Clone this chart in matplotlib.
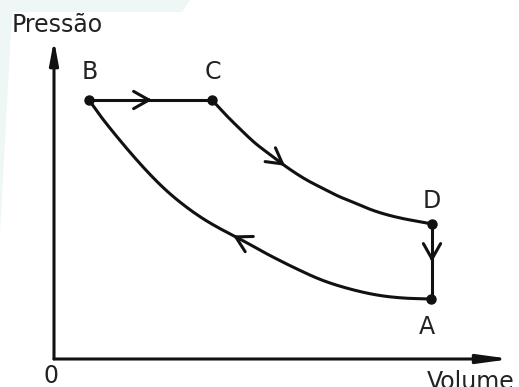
import numpy as np
import matplotlib
matplotlib.use("Agg")
import matplotlib.pyplot as plt
from matplotlib.patches import Polygon

# ---- data (arbitrary units: volume, pressure) ----
point_labels = ["A", "B", "C", "D"]
V_pts = {"A": 377, "B": 35, "C": 158, "D": 378}
P_pts = {"A": 60, "B": 259, "C": 259, "D": 135}

# curve B -> A (compression)
V_BA = [35, 48, 64, 81, 98, 114, 131, 148, 164, 181, 196, 216, 243, 269, 296, 323, 349, 377]
P_BA = [259, 241, 221, 201, 182.5, 167, 153, 141, 131.5, 122.5, 114.5, 103.5, 90, 78.5, 70, 64, 61, 60]

# curve C -> D (expansion)
V_CD = [158, 171, 184, 201, 218, 234, 251, 268, 284, 301, 318, 334, 351, 368, 378]
P_CD = [259, 245, 232, 216, 203, 191, 180, 171, 163, 156, 149, 144, 140, 137, 135]

axis_labels = {"x": "Volume", "y": "Pressão", "origin": "0"}

# ---- figure ----
fig = plt.figure(figsize=(5.19, 3.87), dpi=100)
ax = fig.add_axes([0, 0, 1, 1])
ax.set_xlim(-54, 465)
ax.set_ylim(-28, 359)
ax.axis("off")

# faint watermark in background
wm = Polygon([(0, 387), (190, 387), (182, 375), (12, 375), (0, 154)],
             closed=True, transform=None, facecolor="#eef7f6", edgecolor="none", zorder=0)
fig.patches.append(wm)

lw = 2.2
col = "#111111"


def smooth_line(xs, ys, n=12):
    """Catmull-Rom rendering through the read points (line drawing only)."""
    pts = np.column_stack([xs, ys]).astype(float)
    ext = np.vstack([2 * pts[0] - pts[1], pts, 2 * pts[-1] - pts[-2]])
    out = []
    t = np.linspace(0, 1, n, endpoint=False)[:, None]
    for i in range(1, len(ext) - 2):
        p0, p1, p2, p3 = ext[i - 1], ext[i], ext[i + 1], ext[i + 2]
        seg = 0.5 * ((2 * p1) + (-p0 + p2) * t + (2 * p0 - 5 * p1 + 4 * p2 - p3) * t ** 2
                     + (-p0 + 3 * p1 - 3 * p2 + p3) * t ** 3)
        out.append(seg)
    out.append(pts[-1:])
    out = np.vstack(out)
    return out[:, 0], out[:, 1]


# axes with arrows
ax.annotate("", xy=(0, 319), xytext=(0, 0),
            arrowprops=dict(arrowstyle="-|>,head_length=1.4,head_width=0.26",
                            lw=lw, color=col, shrinkA=0, shrinkB=0))
ax.annotate("", xy=(457, 0), xytext=(0, 0),
            arrowprops=dict(arrowstyle="-|>,head_length=1.9,head_width=0.26",
                            lw=lw, color=col, shrinkA=0, shrinkB=0))

# process lines
ax.plot([V_pts["B"], V_pts["C"]], [P_pts["B"], P_pts["C"]], color=col, lw=lw, solid_capstyle="round")
ax.plot(*smooth_line(V_CD, P_CD), color=col, lw=lw, solid_joinstyle="round")
ax.plot(V_pts["D"] * np.ones(2), [P_pts["D"], P_pts["A"]], color=col, lw=lw)
ax.plot(*smooth_line(V_BA, P_BA), color=col, lw=lw, solid_joinstyle="round")

# points
for k in point_labels:
    ax.plot(V_pts[k], P_pts[k], "o", color=col, ms=6.5, zorder=5)

# direction chevrons
chev = dict(arrowstyle="->,head_length=1.1,head_width=0.62", lw=lw, color=col,
            shrinkA=0, shrinkB=0)


def chevron_on(vs, ps, v_tip, direction):
    vs = np.asarray(vs, float); ps = np.asarray(ps, float)
    order = np.argsort(vs)
    p_tip = np.interp(v_tip, vs[order], ps[order])
    v_tail = v_tip - direction * 6
    p_tail = np.interp(v_tail, vs[order], ps[order])
    ax.annotate("", xy=(v_tip, p_tip), xytext=(v_tail, p_tail), arrowprops=chev)


# B -> C
ax.annotate("", xy=(98, P_pts["B"]), xytext=(92, P_pts["B"]), arrowprops=chev)
# C -> D
chevron_on(V_CD, P_CD, 231, +1)
# D -> A
ax.annotate("", xy=(V_pts["D"], 97), xytext=(V_pts["D"], 103), arrowprops=chev)
# A -> B
chevron_on(V_BA, P_BA, 179, -1)

# labels
fs = 17
txt = dict(fontsize=fs, color="#222222", family="DejaVu Sans")
ax.text(V_pts["B"] + 1, P_pts["B"] + 16, "B", ha="center", va="bottom", **txt)
ax.text(V_pts["C"] + 1, P_pts["C"] + 16, "C", ha="center", va="bottom", **txt)
ax.text(V_pts["D"], P_pts["D"] + 11, "D", ha="center", va="bottom", **txt)
ax.text(V_pts["A"] - 4, P_pts["A"] - 16, "A", ha="center", va="top", **txt)
ax.text(-3, -5, axis_labels["origin"], ha="center", va="top", **txt)
ax.text(373, -30, axis_labels["x"], ha="left", va="baseline", **txt)
ax.text(-42, 327, axis_labels["y"], ha="left", va="baseline", **txt)

fig.savefig("out.png", dpi=100)
